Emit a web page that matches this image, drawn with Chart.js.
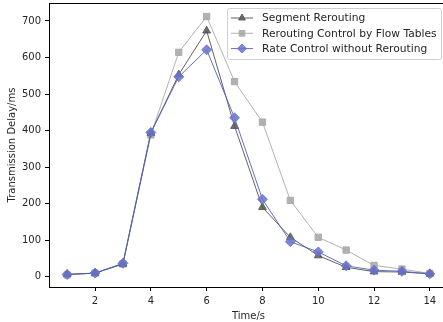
<!DOCTYPE html>
<html>
<head>
<meta charset="utf-8">
<script src="https://cdn.jsdelivr.net/npm/chart.js@4"></script>
<style>
  html, body { margin: 0; padding: 0; background: #fff; overflow: hidden; }
  #wrap { width: 448px; height: 322px; }
</style>
</head>
<body>
<div id="wrap"><canvas id="delayChart"></canvas></div>
<script>
// data
const times = [1, 2, 3, 4, 5, 6, 7, 8, 9, 10, 11, 12, 13, 14];
const segmentRerouting = [7, 10, 35, 393, 553, 673, 412, 190, 108, 58, 26, 14, 13, 8];
const flowTables = [5, 10, 35, 388, 614, 712, 534, 423, 209, 108, 73, 31, 21, 9];
const rateControl = [6, 10, 37, 395, 547, 621, 435, 212, 96, 68, 30, 18, 15, 8];
const xTicks = [2, 4, 6, 8, 10, 12, 14];
const yTicks = [0, 100, 200, 300, 400, 500, 600, 700];

const toPoints = arr => arr.map((v, i) => ({ x: times[i], y: v }));
const font = { family: 'DejaVu Sans', size: 10 };
const textColor = '#262626';

// frame + matplotlib-like legend
const framePlugin = {
  id: 'frame',
  afterDraw(chart) {
    const ctx = chart.ctx, a = chart.chartArea;
    ctx.save();
    ctx.strokeStyle = '#000';
    ctx.lineWidth = 1;
    ctx.strokeRect(a.left + 0.5, a.top + 0.5, a.right - a.left, a.bottom - a.top);

    // legend box
    const bx = 227, by = 8, bw = 214, bh = 51;
    ctx.fillStyle = 'rgba(255,255,255,0.8)';
    ctx.strokeStyle = '#d0d0d0';
    ctx.beginPath();
    ctx.roundRect(bx + 0.5, by + 0.5, bw, bh, 2);
    ctx.fill();
    ctx.stroke();
    ctx.font = '10.7px "DejaVu Sans"';
    ctx.textBaseline = 'middle';
    chart.data.datasets.forEach((ds, i) => {
      const y = 18 + i * 15.3;
      ctx.strokeStyle = ds.borderColor;
      ctx.lineWidth = ds.borderWidth;
      ctx.beginPath();
      ctx.moveTo(231, y);
      ctx.lineTo(253, y);
      ctx.stroke();
      ctx.fillStyle = ds.pointBackgroundColor;
      ctx.strokeStyle = ds.pointBorderColor;
      Chart.helpers.drawPoint(ctx, {
        pointStyle: ds.pointStyle, radius: ds.pointRadius - 0.5, rotation: 0, borderWidth: 1
      }, 242, y);
      ctx.fillStyle = textColor;
      ctx.fillText(ds.label, 262, y + 0.5);
    });
    ctx.restore();
  }
};

const ctx = document.getElementById('delayChart').getContext('2d');
new Chart(ctx, {
  type: 'line',
  data: {
    datasets: [
      {
        label: 'Segment Rerouting',
        data: toPoints(segmentRerouting),
        borderColor: 'rgba(70,70,70,0.85)',
        borderWidth: 1,
        pointStyle: 'triangle',
        pointRadius: 4.5,
        pointBackgroundColor: 'rgba(85,85,85,0.85)',
        pointBorderColor: 'rgba(85,85,85,0.85)',
        order: 2
      },
      {
        label: 'Rerouting Control by Flow Tables',
        data: toPoints(flowTables),
        borderColor: 'rgba(165,165,165,0.85)',
        borderWidth: 1,
        pointStyle: 'rect',
        pointRadius: 4.5,
        pointBackgroundColor: 'rgba(170,170,170,0.9)',
        pointBorderColor: 'rgba(170,170,170,0.9)',
        order: 3
      },
      {
        label: 'Rate Control without Rerouting',
        data: toPoints(rateControl),
        borderColor: 'rgba(85,95,190,0.9)',
        borderWidth: 1,
        pointStyle: 'rectRot',
        pointRadius: 5,
        pointBackgroundColor: 'rgba(105,115,205,0.85)',
        pointBorderColor: 'rgba(105,115,205,0.85)',
        order: 1
      }
    ]
  },
  options: {
    responsive: true,
    maintainAspectRatio: false,
    animation: false,
    layout: { autoPadding: false, padding: { top: 3, left: 0, right: 0, bottom: 0 } },
    plugins: {
      legend: { display: false },
      tooltip: { enabled: false }
    },
    scales: {
      x: {
        type: 'linear',
        min: 0.35,
        max: 14.65,
        afterBuildTicks: axis => { axis.ticks = xTicks.map(v => ({ value: v })); },
        afterFit: s => { s.height = 35; s.paddingLeft = 0; s.paddingRight = 0; },
        grid: { drawOnChartArea: false, tickLength: 4, color: '#000', tickWidth: 1 },
        border: { color: '#000', width: 1 },
        ticks: { font, color: textColor, padding: 4, maxRotation: 0 },
        title: { display: true, text: 'Time/s', font, color: textColor, padding: { top: 0, bottom: 0 } }
      },
      y: {
        min: -28,
        max: 749,
        afterBuildTicks: axis => { axis.ticks = yTicks.map(v => ({ value: v })); },
        afterFit: s => { s.width = 49; s.paddingTop = 0; s.paddingBottom = 0; },
        grid: { drawOnChartArea: false, tickLength: 4, color: '#000', tickWidth: 1 },
        border: { color: '#000', width: 1 },
        ticks: { font, color: textColor, padding: 4 },
        title: { display: true, text: 'Transmission Delay/ms', font, color: textColor, padding: { top: 6, bottom: 2 } }
      }
    }
  },
  plugins: [framePlugin]
});
</script>
</body>
</html>
